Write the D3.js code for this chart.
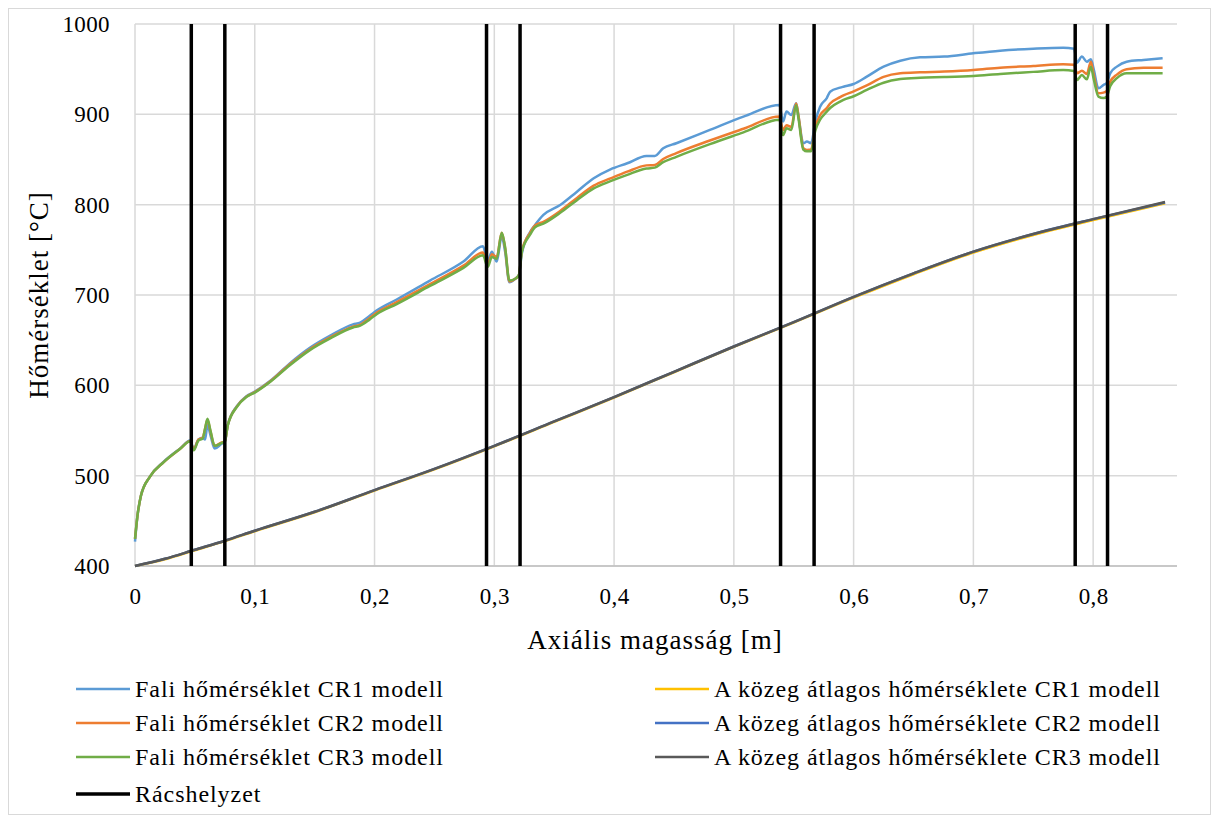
<!DOCTYPE html>
<html>
<head>
<meta charset="utf-8">
<script src="https://cdn.jsdelivr.net/npm/d3@7"></script>
<style>
  body { margin: 0; background: #fff; }
  svg { display: block; font-family: "Liberation Serif", "DejaVu Serif", serif; }
</style>
</head>
<body>
<svg id="chart" width="1214" height="818"></svg>
<script>
// axial position of the wall temperature samples [m]
const wallX = [0, 0.002, 0.005, 0.0125, 0.024, 0.038, 0.046, 0.049, 0.053, 0.0565, 0.0585, 0.0605, 0.063, 0.0665, 0.072, 0.075,
  0.0775, 0.085, 0.093, 0.1, 0.113, 0.129, 0.146, 0.163, 0.182, 0.188, 0.196, 0.202, 0.2185, 0.2463, 0.2742, 0.2905,
  0.2945, 0.298, 0.302, 0.3062, 0.309, 0.3126, 0.3175, 0.3205, 0.323, 0.33, 0.334, 0.341, 0.355, 0.369, 0.383, 0.397,
  0.411, 0.427, 0.434, 0.441, 0.452, 0.48, 0.508, 0.538, 0.541, 0.544, 0.548, 0.552, 0.554, 0.558, 0.561, 0.5645,
  0.568, 0.572, 0.5776, 0.5804, 0.5887, 0.5915, 0.6, 0.611, 0.625, 0.639, 0.6555, 0.6756, 0.7, 0.7223, 0.75, 0.775,
  0.784, 0.7865, 0.7906, 0.7947, 0.7981, 0.8003, 0.8044, 0.8086, 0.8115, 0.8142, 0.8198, 0.828, 0.842, 0.858];

const wallCR1 = [427, 455, 478, 499, 515.5, 530.5, 539, 530, 540, 542, 540, 556, 545, 530, 535, 537.5,
  556, 577, 588, 593, 605, 624, 641.5, 655, 667.5, 669.5, 677, 683, 695, 716, 737, 754,
  738, 748, 737, 765, 748, 714, 718, 722, 746, 770, 777.5, 788.6, 799.6, 814.4, 829.2, 839.1,
  845.8, 853.9, 854, 862.4, 868, 882.7, 897.4, 910.4, 892, 903, 899.3, 912.2, 897.4, 868, 869.8, 868,
  892, 908.5, 918, 925.1, 929.5, 930.6, 933.6, 941.7, 952.8, 959.4, 963.1, 963.9, 967.6, 970.5, 972.7, 973.8,
  972.7, 957.3, 963.9, 958.3, 961, 951, 928.8, 932.5, 935, 945.4, 952.8, 958.3, 960.2, 962];

const wallCR2 = [430, 455, 478, 499, 515, 530, 538.5, 529, 540, 542, 552, 562, 549, 533, 536.5, 538,
  556, 576.5, 587.5, 592.5, 604.5, 623, 640, 653, 665, 667, 674.5, 680.5, 692, 712, 732.5, 747,
  734, 745, 742, 769, 752, 715, 718, 722, 749, 769, 777, 781, 793, 807.5, 821, 829,
  836.5, 843.5, 844, 850.5, 857, 871, 884, 897.5, 882.7, 888, 886, 912, 898, 862.5, 860.6, 861,
  886, 899, 907, 912, 919, 921, 925.5, 932, 941.5, 945.4, 946.5, 947.3, 949, 951.7, 953.5, 955.5,
  955, 945.4, 948.3, 944.7, 958.3, 945, 923.3, 924, 926, 936, 944, 950, 951.5, 951.7];

const wallCR3 = [430, 455, 478, 499, 515, 530, 538, 528, 539, 541, 552, 563, 550, 533, 536, 538,
  556, 576, 587, 592, 604, 622, 639, 652, 664, 666, 673, 679, 690, 710, 730, 744,
  731, 742, 740, 769, 753, 716, 718, 722, 748, 767, 775, 779, 791, 805, 818, 826,
  833, 840, 841, 847, 853, 867, 880, 894, 877, 884.5, 882.7, 910, 895, 861, 859, 859,
  882, 894, 903, 907, 914, 916, 920, 927, 935, 939, 940.5, 941.2, 942.5, 944.7, 947, 949,
  948, 938, 943.5, 938.7, 952.8, 940, 919.6, 918, 920, 931, 940, 945.4, 945.4, 945.5];

// bulk coolant temperature
const fluidX = [0, 0.025, 0.05, 0.075, 0.1, 0.15, 0.2, 0.25, 0.3, 0.35, 0.4, 0.45, 0.5, 0.55, 0.6, 0.65, 0.7, 0.75, 0.8, 0.86];
const fluidCR1 = [400, 407.5, 417.5, 427.5, 438.5, 459.5, 483.5, 507, 532.5, 559.5, 586.5, 614.5, 642.5, 669.5, 697, 723, 747, 766.5, 783, 801.5];
const fluidCR2 = [400, 408, 418, 428, 439, 460, 484, 507.5, 533, 560, 587, 615, 643, 670, 698, 724, 748, 767.5, 784, 802.5];
const fluidCR3 = [400, 408, 418, 428, 439, 460, 484, 507.5, 533, 560, 587, 615, 643, 670, 698, 724, 748, 767.5, 784, 803];

// spacer grid positions [m]
const gridPos = [0.047, 0.075, 0.2935, 0.3215, 0.539, 0.567, 0.785, 0.812];

const xTicks = [0, 0.1, 0.2, 0.3, 0.4, 0.5, 0.6, 0.7, 0.8];
const yTicks = [400, 500, 600, 700, 800, 900, 1000];

const series = [
  { name: "Fali hőmérséklet CR1 modell", xs: wallX, ys: wallCR1, color: "#5B9BD5", w: 2.5 },
  { name: "Fali hőmérséklet CR2 modell", xs: wallX, ys: wallCR2, color: "#ED7D31", w: 2.5 },
  { name: "Fali hőmérséklet CR3 modell", xs: wallX, ys: wallCR3, color: "#70AD47", w: 2.5 },
  { name: "A közeg átlagos hőmérséklete CR1 modell", xs: fluidX, ys: fluidCR1, color: "#FFC000", w: 2.5 },
  { name: "A közeg átlagos hőmérséklete CR2 modell", xs: fluidX, ys: fluidCR2, color: "#4472C4", w: 2.5 },
  { name: "A közeg átlagos hőmérséklete CR3 modell", xs: fluidX, ys: fluidCR3, color: "#595959", w: 2.5 }
];

const svg = d3.select("#chart");
const W = 1214, H = 818;
const plotLeft = 135, plotRight = 1177, plotTop = 24, plotBottom = 566;

svg.append("rect")
  .attr("x", 8.5).attr("y", 8.5)
  .attr("width", W - 12).attr("height", H - 12)
  .attr("fill", "#fff").attr("stroke", "#D9D9D9").attr("stroke-width", 1);

const x = d3.scaleLinear().domain([0, 0.87]).range([plotLeft, plotRight]);
const y = d3.scaleLinear().domain([400, 1000]).range([plotBottom, plotTop]);

// grid
const grid = svg.append("g");
grid.selectAll(".vg").data(xTicks).enter().append("line")
  .attr("x1", d => x(d)).attr("x2", d => x(d))
  .attr("y1", plotTop).attr("y2", plotBottom)
  .attr("stroke", "#D9D9D9").attr("stroke-width", 1.5);
grid.selectAll(".hg").data(yTicks).enter().append("line")
  .attr("x1", plotLeft).attr("x2", plotRight)
  .attr("y1", d => y(d)).attr("y2", d => y(d))
  .attr("stroke", "#D9D9D9").attr("stroke-width", 1.5);

// axes (labels only)
const fmt = d => d === 0 ? "0" : String(d).replace(".", ",");
const xAxis = svg.append("g").attr("transform", `translate(0,${plotBottom})`)
  .call(d3.axisBottom(x).tickValues(xTicks).tickFormat(fmt).tickSize(0).tickPadding(22));
const yAxis = svg.append("g").attr("transform", `translate(${plotLeft},0)`)
  .call(d3.axisLeft(y).tickValues(yTicks).tickFormat(d3.format("d")).tickSize(0).tickPadding(25));
[xAxis, yAxis].forEach(a => {
  a.select(".domain").remove();
  a.selectAll("text").attr("font-size", 23).attr("fill", "#000")
    .attr("font-family", "Liberation Serif, serif").attr("letter-spacing", 0.4);
});
svg.append("line").attr("x1", plotLeft).attr("x2", plotRight).attr("y1", plotBottom).attr("y2", plotBottom)
  .attr("stroke", "#BFBFBF").attr("stroke-width", 1.5);

// data lines
const line = d3.line().curve(d3.curveMonotoneX);
const plot = svg.append("g");
const drawOrder = [3, 4, 5, 0, 1, 2];
drawOrder.forEach(i => {
  const s = series[i];
  plot.append("path")
    .attr("d", line(s.xs.map((v, k) => [x(v), y(s.ys[k])])))
    .attr("fill", "none").attr("stroke", s.color).attr("stroke-width", s.w)
    .attr("stroke-linejoin", "round");
});

// spacer grids
plot.selectAll(".grid-pos").data(gridPos).enter().append("line")
  .attr("x1", d => x(d)).attr("x2", d => x(d))
  .attr("y1", y(400)).attr("y2", y(1000))
  .attr("stroke", "#000").attr("stroke-width", 3.5);

// axis titles
svg.append("text")
  .attr("x", 655).attr("y", 649)
  .attr("text-anchor", "middle").attr("font-size", 27).attr("letter-spacing", 1)
  .text("Axiális magasság [m]");
svg.append("text")
  .attr("transform", `translate(48,${y(700)}) rotate(-90)`)
  .attr("text-anchor", "middle").attr("font-size", 27).attr("letter-spacing", 1)
  .text("Hőmérséklet [°C]");

// legend
const legendItems = [
  { name: series[0].name, color: series[0].color, w: 2.5, lx: 76, ty: 689 },
  { name: series[1].name, color: series[1].color, w: 2.5, lx: 76, ty: 723 },
  { name: series[2].name, color: series[2].color, w: 2.5, lx: 76, ty: 757 },
  { name: "Rácshelyzet", color: "#000", w: 3.5, lx: 76, ty: 794 },
  { name: series[3].name, color: series[3].color, w: 2.5, lx: 655, ty: 689 },
  { name: series[4].name, color: series[4].color, w: 2.5, lx: 655, ty: 723 },
  { name: series[5].name, color: series[5].color, w: 2.5, lx: 655, ty: 757 }
];
const lg = svg.append("g").selectAll("g").data(legendItems).enter().append("g");
lg.append("line")
  .attr("x1", d => d.lx).attr("x2", d => d.lx + 54)
  .attr("y1", d => d.ty).attr("y2", d => d.ty)
  .attr("stroke", d => d.color).attr("stroke-width", d => d.w);
lg.append("text")
  .attr("x", d => d.lx + 59).attr("y", d => d.ty)
  .attr("dy", "0.33em").attr("font-size", 24).attr("letter-spacing", 0.95)
  .text(d => d.name);
</script>
</body>
</html>
